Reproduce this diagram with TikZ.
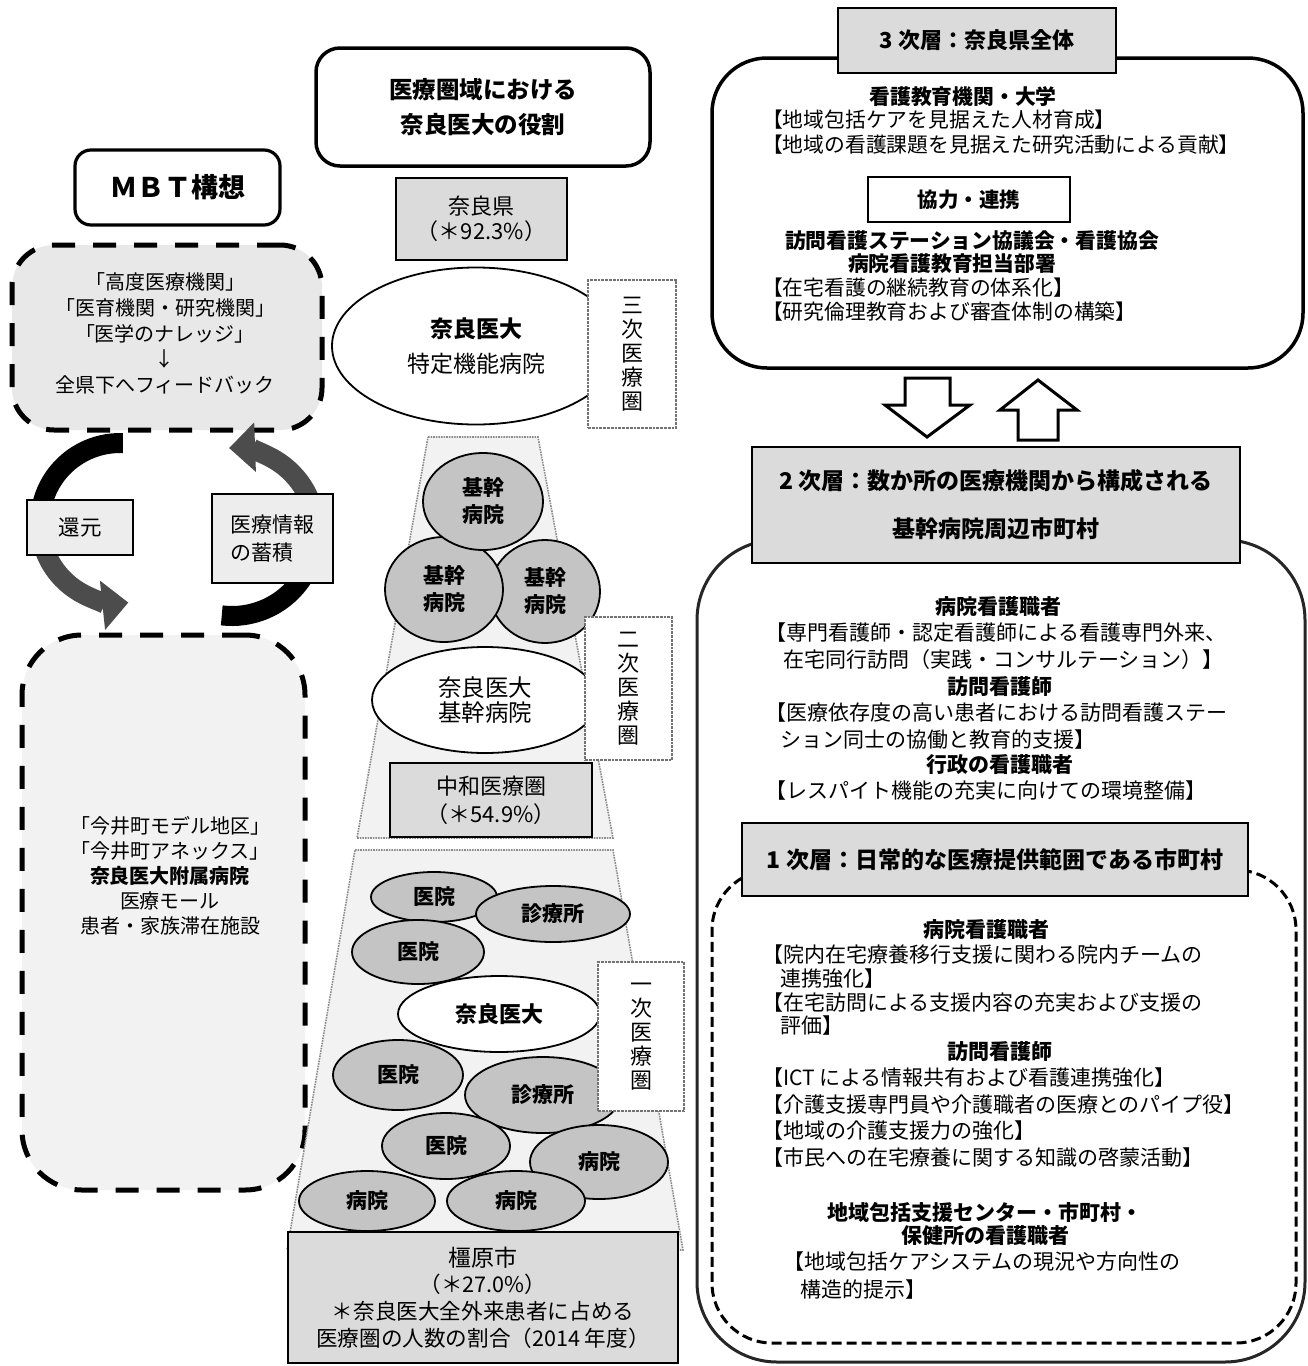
\documentclass[tikz,border=0pt]{standalone}
\usepackage{fontspec}
\setmainfont{Noto Sans CJK JP}
\usetikzlibrary{shapes.geometric,arrows.meta}
\newcommand\myfs[2]{\fontsize{#1}{#2}\selectfont}
\definecolor{boxgray}{gray}{0.86}
\definecolor{cellgray}{gray}{0.77}
\definecolor{paperA}{gray}{0.91}
\definecolor{paperB}{gray}{0.95}
\definecolor{trapgray}{gray}{0.95}
\definecolor{boxlight}{gray}{0.93}
\tikzset{
  every node/.style={inner sep=0pt, outer sep=0pt},
  lt/.style={anchor=west, font=\myfs{21}{26}},
  lt3/.style={anchor=west, font=\myfs{20.8}{25}},
  hd/.style={font=\myfs{21}{26}\bfseries},
  hd3/.style={font=\myfs{20.8}{25}\bfseries},
  graybox/.style={draw, line width=1.4, fill=boxgray},
  cellg/.style={ellipse, draw, line width=1.8, fill=cellgray, font=\myfs{21}{27}\bfseries, align=center},
  cellw/.style={ellipse, draw, line width=1.8, fill=white, align=center},
  vbox/.style={draw=black!55, densely dotted, line width=2.8, fill=white, align=center, font=\myfs{22}{24}},
  trap/.style={draw=black!45, densely dotted, line width=1.6, fill=trapgray},
  bigdash/.style={draw, line width=5, dash pattern=on 23pt off 18pt},
  hollow/.style={draw, line width=3, fill=white, line join=miter},
  band/.style={line width=20},
}
\begin{document}
\begin{tikzpicture}[x=1pt,y=-1pt]
\useasboundingbox (0,0) rectangle (1308,1366);
\fill[white] (0,0) rectangle (1308,1366);

% ================= LEFT COLUMN =================
\node[draw, line width=3.2, rounded corners=16, minimum width=205, minimum height=75,
      font=\myfs{27}{30}\bfseries] (mbt) at (177.5,187.5) {ＭＢＴ構想};

\node[bigdash, rounded corners=42, fill=paperA, minimum width=310, minimum height=185] (know) at (167,337.5) {};
\node[align=center, font=\myfs{20}{25.75}] (knowtxt) at (165,333.5)
  {「高度医療機関」\\「医育機関・研究機関」\\「医学のナレッジ」\\↓\\全県下へフィードバック};

% circular arrows
\draw[band, black] (120,523) ++(272:80) arc[start angle=272, end angle=178, radius=80];
\draw[band, black!70, -{Triangle[length=26pt,width=48pt]}] (120,523) ++(181:80) arc[start angle=181, end angle=84, radius=80];
\draw[band, black] (232,532) ++(97:84) arc[start angle=97, end angle=-2, radius=84];
\draw[band, black!70, -{Triangle[length=26pt,width=48pt]}] (232,532) ++(1:84) arc[start angle=1, end angle=-92, radius=84];

\node[graybox, fill=boxlight, minimum width=106, minimum height=55, font=\myfs{21.5}{26}] (kangen) at (80,527.5) {還元};
\node[graybox, fill=boxlight, minimum width=121, minimum height=89, align=left, font=\myfs{21}{28}] (info) at (272.5,538.5) {医療情報\\の蓄積};

\node[bigdash, rounded corners=60, fill=paperB, minimum width=283, minimum height=555] (imai) at (163.5,912.5) {};
\node[align=center, font=\myfs{20}{25}] (imaitxt) at (170,876)
  {「今井町モデル地区」\\「今井町アネックス」\\\textbf{奈良医大附属病院}\\医療モール\\患者・家族滞在施設};

% ================= CENTER COLUMN =================
\node[draw, line width=3.5, rounded corners=24, minimum width=334, minimum height=118, align=center,
      font=\myfs{23.5}{35}\bfseries] (role) at (483,107) {医療圏域における\\奈良医大の役割};

\node[graybox, minimum width=171, minimum height=82, align=center, font=\myfs{22}{25}] (naraken) at (481.5,219) {奈良県\\（＊92.3\%）};

\node[cellw, minimum width=288, minimum height=157, font=\myfs{23}{35}] (tokutei) at (476,346) {\textbf{奈良医大}\\特定機能病院};
\node[vbox, minimum width=88, minimum height=148] (sanji) at (632,354) {三\\次\\医\\療\\圏};

% secondary zone
\path[trap] (428,437) -- (538,437) -- (613,838) -- (357,838) -- cycle;
\node[cellg, minimum width=110, minimum height=103] (kikan3) at (545,591.5) {基幹\\病院};
\node[cellg, minimum width=118, minimum height=105] (kikan2) at (444,589.5) {基幹\\病院};
\node[cellg, minimum width=120, minimum height=97] (kikan1) at (483,501.5) {基幹\\病院};
\node[cellw, minimum width=226, minimum height=106, font=\myfs{23.5}{25}] (kikanw) at (485,700) {奈良医大\\基幹病院};
\node[vbox, minimum width=87, minimum height=143] (niji) at (628.5,688.5) {二\\次\\医\\療\\圏};
\node[graybox, minimum width=202, minimum height=74, align=center, font=\myfs{22}{28}] (chuwa) at (491,800) {中和医療圏\\（＊54.9\%）};

% primary zone
\path[trap] (355,850) -- (613,850) -- (683,1250) -- (287,1250) -- cycle;
\node[cellg, minimum width=126, minimum height=50] (iin1) at (434,897) {医院};
\node[cellg, minimum width=154, minimum height=56] (shin1) at (553,914) {診療所};
\node[cellg, minimum width=132, minimum height=64] (iin2) at (418,952) {医院};
\node[cellg, minimum width=130, minimum height=70] (iin3) at (398,1075) {医院};
\node[cellg, minimum width=156, minimum height=76] (shin2) at (543,1095) {診療所};
\node[cellw, minimum width=202, minimum height=76, font=\myfs{22}{26}\bfseries] (narai) at (499,1014) {奈良医大};
\node[cellg, minimum width=128, minimum height=66] (iin4) at (446,1146) {医院};
\node[cellg, minimum width=138, minimum height=74] (byo1) at (599,1162) {病院};
\node[cellg, minimum width=136, minimum height=60] (byo2) at (367,1201) {病院};
\node[cellg, minimum width=138, minimum height=60] (byo3) at (516,1201) {病院};
\node[vbox, minimum width=86, minimum height=149] (ichiji) at (641,1036.5) {一\\次\\医\\療\\圏};

\node[graybox, minimum width=390, minimum height=131, align=center, font=\myfs{21.6}{26.7}] (kashi) at (483,1297.5)
  {\myfs{23}{26.7}橿原市\\（＊27.0\%）\\＊奈良医大全外来患者に占める\\医療圏の人数の割合（2014 年度）};

% ================= RIGHT COLUMN =================
\node[draw, line width=3.5, rounded corners=55, minimum width=591, minimum height=310] (frame3) at (1007.5,213) {};
\node[graybox, minimum width=278, minimum height=65, font=\myfs{22}{26}\bfseries] (lab3) at (977,40.5) {3 次層：奈良県全体};

\node[hd3] (a1) at (963,97) {看護教育機関・大学};
\node[lt3] (a2) at (762,120) {【地域包括ケアを見据えた人材育成】};
\node[lt3] (a3) at (762,145) {【地域の看護課題を見据えた研究活動による貢献】};
\node[draw, line width=1.4, fill=white, minimum width=202, minimum height=45, font=\myfs{20.5}{25}\bfseries] (kyo) at (969,199.5) {協力・連携};
\node[hd3] (a4) at (972,241) {訪問看護ステーション協議会・看護協会};
\node[hd3] (a5) at (952,264) {病院看護教育担当部署};
\node[lt3] (a6) at (762,288) {【在宅看護の継続教育の体系化】};
\node[lt3] (a7) at (762,312) {【研究倫理教育および審査体制の構築】};

% hollow arrows between layers
\path[hollow] (905,378) -- (950,378) -- (950,405) -- (970,405) -- (927,437) -- (885,405) -- (905,405) -- cycle;
\path[hollow] (1018,440) -- (1058,440) -- (1058,410) -- (1077,410) -- (1038,380) -- (1000,410) -- (1018,410) -- cycle;

% second layer
\node[draw=black!85, line width=3, rounded corners=80, minimum width=608, minimum height=822] (frame2) at (1001,951) {};
\node[graybox, minimum width=488, minimum height=116, align=center, font=\myfs{23}{48}\bfseries] (lab2) at (996,505)
  {2 次層：数か所の医療機関から構成される\\基幹病院周辺市町村};

\node[hd] (b1) at (998,607) {病院看護職者};
\node[lt] (b2) at (765,633) {【専門看護師・認定看護師による看護専門外来、};
\node[lt] (b3) at (783,660) {在宅同行訪問（実践・コンサルテーション）】};
\node[hd] (b4) at (1000,687) {訪問看護師};
\node[lt] (b5) at (765,713) {【医療依存度の高い患者における訪問看護ステー};
\node[lt] (b6) at (780,740) {ション同士の協働と教育的支援】};
\node[hd] (b7) at (1000,765) {行政の看護職者};
\node[lt] (b8) at (765,791) {【レスパイト機能の充実に向けての環境整備】};

% first layer
\node[draw, line width=3, dash pattern=on 10pt off 5pt, rounded corners=60, fill=white,
      minimum width=584, minimum height=473] (frame1) at (1004,1106.5) {};
\node[graybox, minimum width=506, minimum height=73, font=\myfs{23}{26}\bfseries] (lab1) at (995,859.5)
  {1 次層：日常的な医療提供範囲である市町村};

\node[hd] (c1) at (986,930) {病院看護職者};
\node[lt] (c2) at (762,955) {【院内在宅療養移行支援に関わる院内チームの};
\node[lt] (c3) at (780,979) {連携強化】};
\node[lt] (c4) at (762,1003) {【在宅訪問による支援内容の充実および支援の};
\node[lt] (c5) at (780,1026) {評価】};
\node[hd] (c6) at (1000,1052) {訪問看護師};
\node[lt] (c7) at (762,1078) {【ICT による情報共有および看護連携強化】};
\node[lt] (c8) at (762,1105) {【介護支援専門員や介護職者の医療とのパイプ役】};
\node[lt] (c9) at (762,1131) {【地域の介護支援力の強化】};
\node[lt] (c10) at (762,1158) {【市民への在宅療養に関する知識の啓蒙活動】};
\node[hd] (c11) at (985,1212) {地域包括支援センター・市町村・};
\node[hd] (c12) at (985,1236) {保健所の看護職者};
\node[lt] (c13) at (783,1262) {【地域包括ケアシステムの現況や方向性の};
\node[lt] (c14) at (800,1290) {構造的提示】};
\end{tikzpicture}
\end{document}
